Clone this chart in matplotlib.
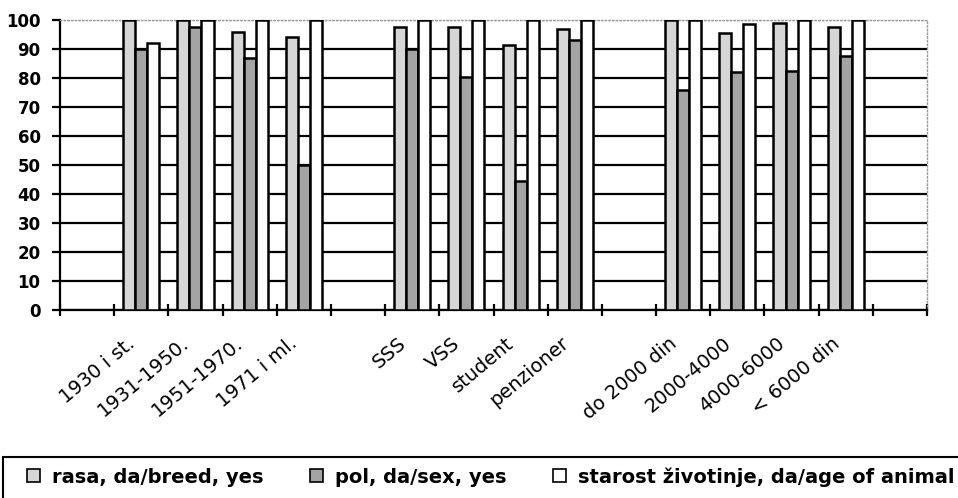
import numpy as np
import matplotlib
matplotlib.use("Agg")
import matplotlib.pyplot as plt
from matplotlib.patches import Patch, Rectangle
import matplotlib.transforms as mtransforms

categories = ["", "1930 i st.", "1931-1950.", "1951-1970.", "1971 i ml.", "",
              "SSS", "VSS", "student", "penzioner", "",
              "do 2000 din", "2000-4000", "4000-6000", "< 6000 din", ""]
nan = np.nan
rasa = [nan, 100, 100, 96, 94, nan, 97.5, 97.5, 91.5, 97, nan, 100, 95.5, 99, 97.5, nan]
pol = [nan, 90, 97.5, 87, 50, nan, 90, 80.5, 44.5, 93, nan, 76, 82, 82.5, 87.5, nan]
starost = [nan, 92, 100, 100, 100, nan, 100, 100, 100, 100, nan, 100, 98.5, 100, 100, nan]
series_labels = ["rasa, da/breed, yes", "pol, da/sex, yes",
                 "starost životinje, da/age of animal"]
y_ticks = list(range(0, 101, 10))

W, H = 958, 498
fig = plt.figure(figsize=(W / 100, H / 100), dpi=100)
ax = fig.add_axes([60 / W, (H - 310) / H, (927 - 60) / W, 290 / H])

x = np.arange(len(categories))
bw = 1 / 4.5
colors = ['#d6d6d6', '#a4a4a4', '#ffffff']
for i, (vals, col, lab) in enumerate(zip([rasa, pol, starost], colors, series_labels)):
    v = np.array(vals, dtype=float)
    m = ~np.isnan(v)
    ax.bar(x[m] + (i - 1) * bw, v[m], width=bw, color=col, edgecolor='black',
           linewidth=1.8, label=lab, zorder=3)

ax.set_xlim(-0.5, len(categories) - 0.5)
ax.set_ylim(0, 100)
ax.set_yticks(y_ticks)
ax.set_yticklabels([str(t) for t in y_ticks], fontweight='bold', fontsize=12)
ax.tick_params(axis='y', direction='out', length=6, width=1.6, pad=8, color='black')

ax.yaxis.grid(True, color='black', linewidth=1.6, zorder=1)
ax.set_axisbelow(True)
gl = ax.get_ygridlines()
gl[-1].set_color('#999999')
gl[-1].set_linestyle(':')
gl[-1].set_linewidth(1.0)

for s in ['left', 'bottom']:
    ax.spines[s].set_color('black')
    ax.spines[s].set_linewidth(1.6)
for s in ['top', 'right']:
    ax.spines[s].set_color('#999999')
    ax.spines[s].set_linestyle(':')
    ax.spines[s].set_linewidth(1.0)

# tick marks at slot boundaries, labels at category centers
ax.set_xticks(np.arange(-0.5, len(categories)), labels=[""] * (len(categories) + 1))
ax.tick_params(axis='x', which='major', direction='inout', length=9, width=1.6, color='black')
ax.set_xticks(x, minor=True)
ax.set_xticklabels(categories, minor=True, rotation=40, ha='right', va='top',
                   rotation_mode='anchor', fontsize=14)
ax.tick_params(axis='x', which='minor', length=0, pad=17)
offset = mtransforms.ScaledTranslation(-15 / 100, 0, fig.dpi_scale_trans)
for lbl in ax.xaxis.get_minorticklabels():
    lbl.set_transform(lbl.get_transform() + offset)

# legend frame (extends past the figure's right and bottom edges)
fig.add_artist(Rectangle((3 / W, -0.2), 1.2, (H - 457) / H + 0.2,
                         transform=fig.transFigure, fill=False,
                         edgecolor='black', linewidth=1.5))
handles = [Patch(facecolor=c, edgecolor='black', linewidth=1.2) for c in colors]
leg = fig.legend(handles, series_labels, loc='upper left',
                 bbox_to_anchor=(27 / W, (H - 467) / H), ncol=3, frameon=False,
                 prop={'weight': 'bold', 'size': 14},
                 handlelength=0.68, handleheight=0.68, handletextpad=0.6,
                 columnspacing=2.4, borderpad=0, borderaxespad=0)

fig.savefig("out.png", dpi=100)
